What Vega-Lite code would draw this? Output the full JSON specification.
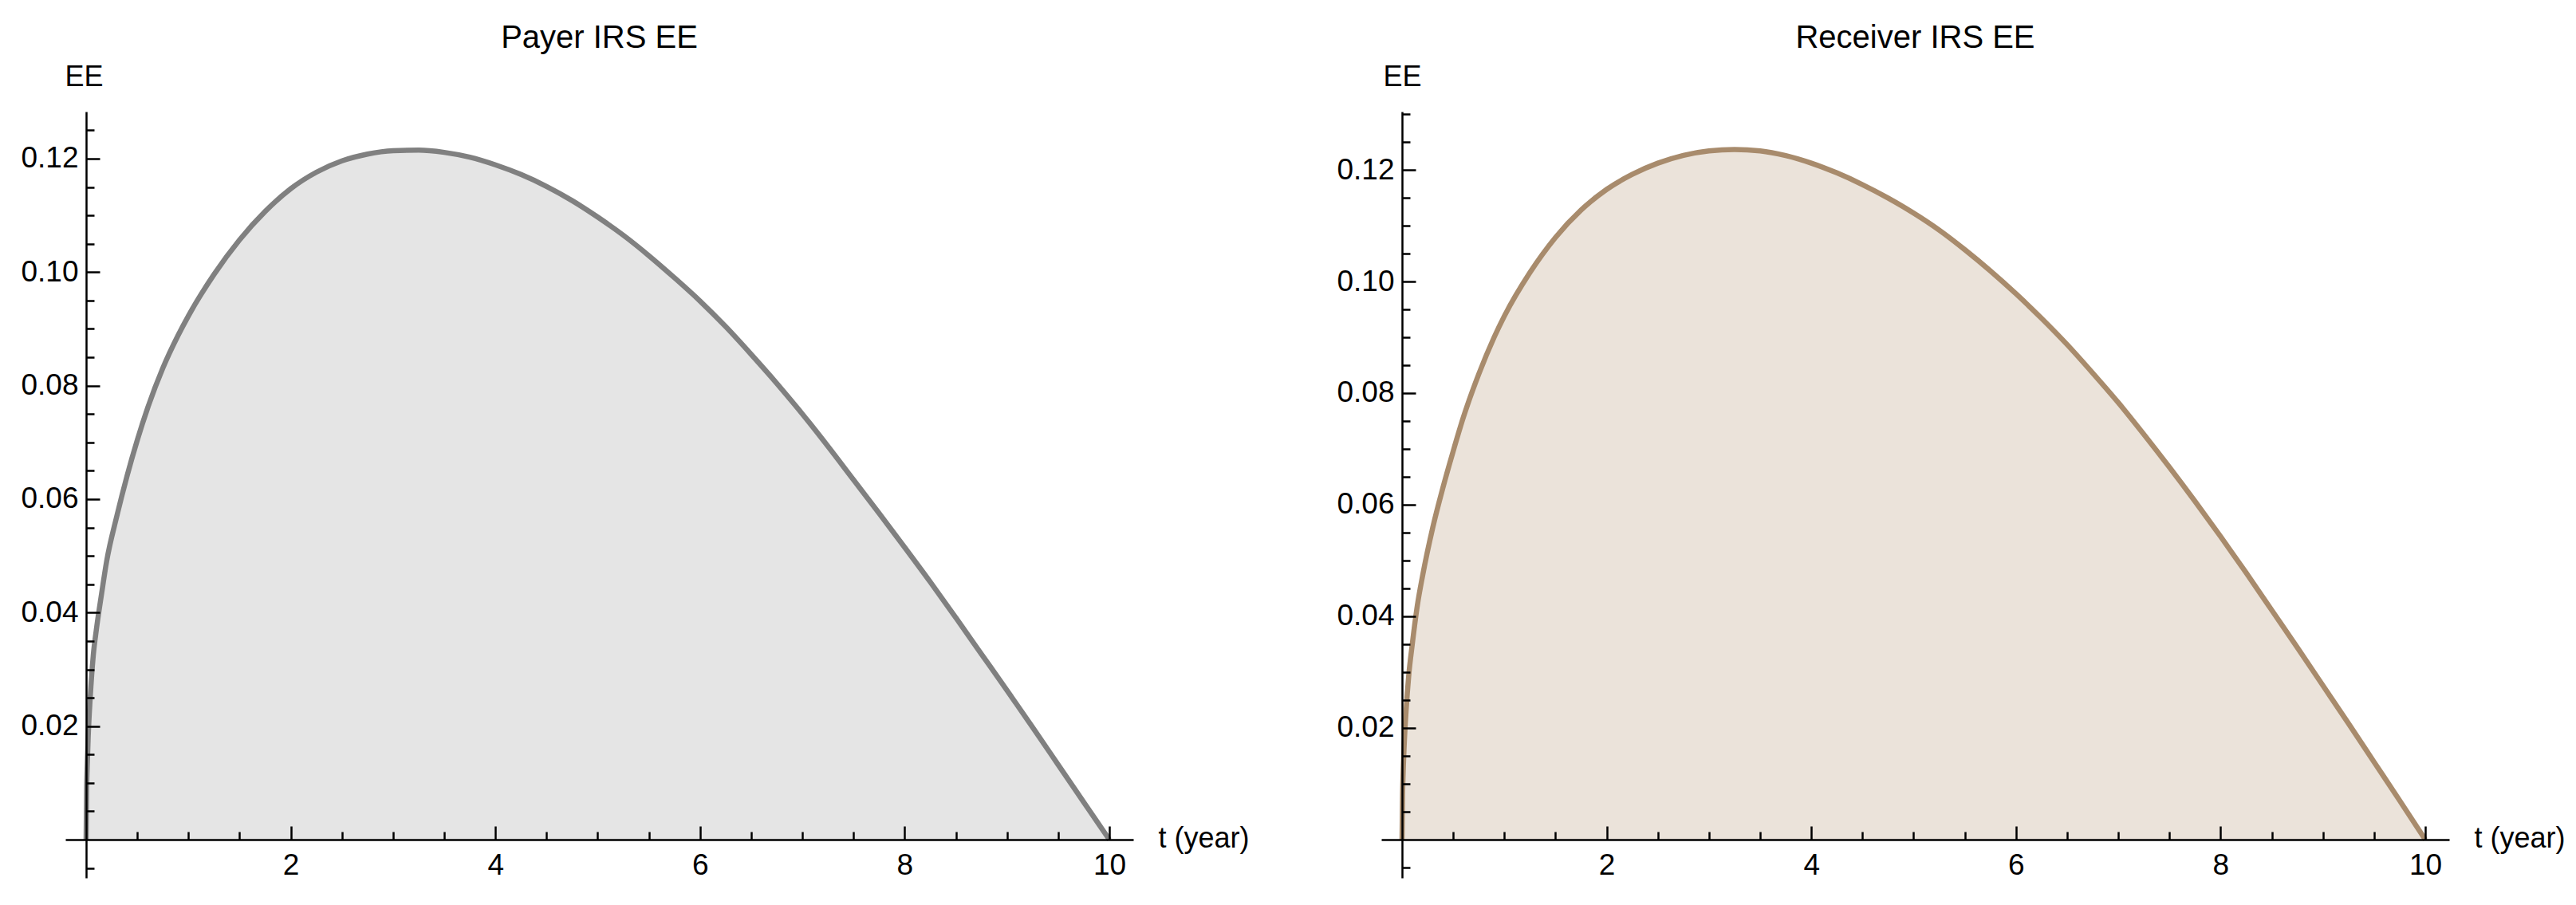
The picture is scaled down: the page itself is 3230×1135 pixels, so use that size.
{
  "$schema": "https://vega.github.io/schema/vega-lite/v6.json",
  "padding": {"left": 25, "top": 28, "right": 5, "bottom": 5},
  "background": "white",
  "config": {"view": {"stroke": null}, "font": "Liberation Sans"},
  "bounds": "flush",
  "spacing": 311,
  "datasets": {
    "payer": [
      {"t": 0, "ee": 0}, {"t": 0.005, "ee": 0.009}, {"t": 0.01, "ee": 0.0125}, {"t": 0.02, "ee": 0.018}, {"t": 0.04, "ee": 0.025},
      {"t": 0.07, "ee": 0.0325}, {"t": 0.1, "ee": 0.037}, {"t": 0.15, "ee": 0.0432}, {"t": 0.2, "ee": 0.049}, {"t": 0.3, "ee": 0.057},
      {"t": 0.4, "ee": 0.0641}, {"t": 0.5, "ee": 0.0704}, {"t": 0.6, "ee": 0.076}, {"t": 0.75, "ee": 0.0831}, {"t": 0.9, "ee": 0.0889},
      {"t": 1.0, "ee": 0.0923}, {"t": 1.25, "ee": 0.0996}, {"t": 1.5, "ee": 0.1057}, {"t": 1.75, "ee": 0.1107},
      {"t": 2.0, "ee": 0.1147}, {"t": 2.25, "ee": 0.1176}, {"t": 2.5, "ee": 0.1196}, {"t": 2.75, "ee": 0.1208}, {"t": 3.0, "ee": 0.1214},
      {"t": 3.25, "ee": 0.1215}, {"t": 3.5, "ee": 0.1211}, {"t": 3.75, "ee": 0.12025}, {"t": 4.0, "ee": 0.1189}, {"t": 4.25, "ee": 0.1172},
      {"t": 4.5, "ee": 0.1151}, {"t": 4.75, "ee": 0.1126}, {"t": 5.0, "ee": 0.1097}, {"t": 5.25, "ee": 0.1065}, {"t": 5.5, "ee": 0.1029},
      {"t": 5.75, "ee": 0.099}, {"t": 6.0, "ee": 0.0949}, {"t": 6.25, "ee": 0.0904}, {"t": 6.5, "ee": 0.0855}, {"t": 6.75, "ee": 0.0804},
      {"t": 7.0, "ee": 0.075}, {"t": 7.25, "ee": 0.0693}, {"t": 7.5, "ee": 0.0634}, {"t": 7.75, "ee": 0.0575}, {"t": 8.0, "ee": 0.0515},
      {"t": 8.25, "ee": 0.0454}, {"t": 8.5, "ee": 0.0391}, {"t": 8.75, "ee": 0.0327}, {"t": 9.0, "ee": 0.0263}, {"t": 9.25, "ee": 0.0198},
      {"t": 9.5, "ee": 0.0132}, {"t": 9.75, "ee": 0.0066}, {"t": 10.0, "ee": 0}
    ],
    "receiver": [
      {"t": 0, "ee": 0}, {"t": 0.005, "ee": 0.008}, {"t": 0.01, "ee": 0.0115}, {"t": 0.02, "ee": 0.0165}, {"t": 0.04, "ee": 0.0232},
      {"t": 0.065, "ee": 0.0293}, {"t": 0.1, "ee": 0.035}, {"t": 0.15, "ee": 0.042}, {"t": 0.2, "ee": 0.0472}, {"t": 0.3, "ee": 0.0559},
      {"t": 0.4, "ee": 0.0631}, {"t": 0.5, "ee": 0.0696}, {"t": 0.6, "ee": 0.0757}, {"t": 0.75, "ee": 0.0834}, {"t": 0.9, "ee": 0.09},
      {"t": 1.0, "ee": 0.0938}, {"t": 1.25, "ee": 0.1016}, {"t": 1.5, "ee": 0.1079}, {"t": 1.75, "ee": 0.1128}, {"t": 2.0, "ee": 0.1165},
      {"t": 2.25, "ee": 0.1192}, {"t": 2.5, "ee": 0.1212}, {"t": 2.75, "ee": 0.1226}, {"t": 3.0, "ee": 0.1234}, {"t": 3.25, "ee": 0.12365},
      {"t": 3.5, "ee": 0.1234}, {"t": 3.75, "ee": 0.12255}, {"t": 4.0, "ee": 0.1212}, {"t": 4.25, "ee": 0.11945}, {"t": 4.5, "ee": 0.11735},
      {"t": 4.75, "ee": 0.11495}, {"t": 5.0, "ee": 0.11225}, {"t": 5.25, "ee": 0.1092}, {"t": 5.5, "ee": 0.1057}, {"t": 5.75, "ee": 0.1019},
      {"t": 6.0, "ee": 0.0978}, {"t": 6.25, "ee": 0.0934}, {"t": 6.5, "ee": 0.0887}, {"t": 6.75, "ee": 0.0836}, {"t": 7.0, "ee": 0.0783},
      {"t": 7.25, "ee": 0.0726}, {"t": 7.5, "ee": 0.0667}, {"t": 7.75, "ee": 0.0606}, {"t": 8.0, "ee": 0.0543}, {"t": 8.25, "ee": 0.0478},
      {"t": 8.5, "ee": 0.0411}, {"t": 8.75, "ee": 0.0344}, {"t": 9.0, "ee": 0.0276}, {"t": 9.25, "ee": 0.0208}, {"t": 9.5, "ee": 0.0139},
      {"t": 9.75, "ee": 0.007}, {"t": 10.0, "ee": 0}
    ]
  },
  "hconcat": [
    {
      "width": 1339,
      "height": 961,
      "title": {"text": "Payer IRS EE", "fontSize": 40, "font": "Liberation Sans", "fontWeight": "normal", "color": "black", "anchor": "middle", "frame": "group", "baseline": "alphabetic", "offset": -22},
      "data": {"name": "payer"},
      "layer": [
        {
          "mark": {"type": "area", "color": "#e5e5e5", "interpolate": "monotone"},
          "encoding": {
            "x": {"field": "t", "type": "quantitative", "scale": {"domain": [-0.2026, 10.234], "nice": false, "zero": false},
              "axis": {"orient": "bottom", "offset": -48, "values": [2, 4, 6, 8, 10], "format": "d", "grid": false, "zindex": 1,
                "domainColor": "black", "domainWidth": 2.5, "tickColor": "black", "tickWidth": 2.5, "tickSize": -17,
                "labelFont": "Liberation Sans", "labelFontSize": 37, "labelColor": "black", "labelPadding": 31, "labelFlush": false, "labelOverlap": false,
                "title": "t (year)", "titleFont": "Liberation Sans", "titleFontSize": 36, "titleFontWeight": "normal", "titleColor": "black",
                "titleAngle": 0, "titleAlign": "left", "titleBaseline": "middle", "titleX": 1370, "titleY": -2}},
            "y": {"field": "ee", "type": "quantitative", "scale": {"domain": [-0.00674, 0.12828], "nice": false, "zero": false},
              "axis": {"orient": "left", "offset": -26, "values": [0.02, 0.04, 0.06, 0.08, 0.1, 0.12], "format": ".2f", "grid": false, "zindex": 1,
                "domainColor": "black", "domainWidth": 2.5, "tickColor": "black", "tickWidth": 2.5, "tickSize": -17,
                "labelFont": "Liberation Sans", "labelFontSize": 37, "labelColor": "black", "labelPadding": 27, "labelOverlap": false,
                "title": "EE", "titleFont": "Liberation Sans", "titleFontSize": 36, "titleFontWeight": "normal", "titleColor": "black",
                "titleAngle": 0, "titleAlign": "center", "titleBaseline": "alphabetic", "titleX": -3, "titleY": -33}},
            "y2": {"datum": 0}
          }
        },
        {
          "mark": {"type": "line", "color": "#808080", "strokeWidth": 6.5, "interpolate": "monotone"},
          "encoding": {
            "x": {"field": "t", "type": "quantitative", "scale": {"domain": [-0.2026, 10.234], "nice": false, "zero": false},
              "axis": {"orient": "bottom", "offset": -48, "values": [0.5, 1, 1.5, 2.5, 3, 3.5, 4.5, 5, 5.5, 6.5, 7, 7.5, 8.5, 9, 9.5], "grid": false, "zindex": 1,
                "domain": false, "labels": false, "tickColor": "black", "tickWidth": 2.5, "tickSize": -10, "title": null}},
            "y": {"field": "ee", "type": "quantitative", "scale": {"domain": [-0.00674, 0.12828], "nice": false, "zero": false},
              "axis": {"orient": "left", "offset": -26, "values": [-0.005, 0.005, 0.01, 0.015, 0.025, 0.03, 0.035, 0.045, 0.05, 0.055, 0.065, 0.07, 0.075, 0.085, 0.09, 0.095, 0.105, 0.11, 0.115, 0.125], "grid": false, "zindex": 1,
                "domain": false, "labels": false, "tickColor": "black", "tickWidth": 2.5, "tickSize": -10, "title": null}}
          }
        }
      ],
      "resolve": {"axis": {"x": "independent", "y": "independent"}}
    },
    {
      "width": 1339,
      "height": 961,
      "title": {"text": "Receiver IRS EE", "fontSize": 40, "font": "Liberation Sans", "fontWeight": "normal", "color": "black", "anchor": "middle", "frame": "group", "baseline": "alphabetic", "offset": -22},
      "data": {"name": "receiver"},
      "layer": [
        {
          "mark": {"type": "area", "color": "#ebe3da", "interpolate": "monotone"},
          "encoding": {
            "x": {"field": "t", "type": "quantitative", "scale": {"domain": [-0.2026, 10.234], "nice": false, "zero": false},
              "axis": {"orient": "bottom", "offset": -48, "values": [2, 4, 6, 8, 10], "format": "d", "grid": false, "zindex": 1,
                "domainColor": "black", "domainWidth": 2.5, "tickColor": "black", "tickWidth": 2.5, "tickSize": -17,
                "labelFont": "Liberation Sans", "labelFontSize": 37, "labelColor": "black", "labelPadding": 31, "labelFlush": false, "labelOverlap": false,
                "title": "t (year)", "titleFont": "Liberation Sans", "titleFontSize": 36, "titleFontWeight": "normal", "titleColor": "black",
                "titleAngle": 0, "titleAlign": "left", "titleBaseline": "middle", "titleX": 1370, "titleY": -2}},
            "y": {"field": "ee", "type": "quantitative", "scale": {"domain": [-0.00686, 0.13043], "nice": false, "zero": false},
              "axis": {"orient": "left", "offset": -26, "values": [0.02, 0.04, 0.06, 0.08, 0.1, 0.12], "format": ".2f", "grid": false, "zindex": 1,
                "domainColor": "black", "domainWidth": 2.5, "tickColor": "black", "tickWidth": 2.5, "tickSize": -17,
                "labelFont": "Liberation Sans", "labelFontSize": 37, "labelColor": "black", "labelPadding": 27, "labelOverlap": false,
                "title": "EE", "titleFont": "Liberation Sans", "titleFontSize": 36, "titleFontWeight": "normal", "titleColor": "black",
                "titleAngle": 0, "titleAlign": "center", "titleBaseline": "alphabetic", "titleX": 0, "titleY": -33}},
            "y2": {"datum": 0}
          }
        },
        {
          "mark": {"type": "line", "color": "#a88b6c", "strokeWidth": 6.5, "interpolate": "monotone"},
          "encoding": {
            "x": {"field": "t", "type": "quantitative", "scale": {"domain": [-0.2026, 10.234], "nice": false, "zero": false},
              "axis": {"orient": "bottom", "offset": -48, "values": [0.5, 1, 1.5, 2.5, 3, 3.5, 4.5, 5, 5.5, 6.5, 7, 7.5, 8.5, 9, 9.5], "grid": false, "zindex": 1,
                "domain": false, "labels": false, "tickColor": "black", "tickWidth": 2.5, "tickSize": -10, "title": null}},
            "y": {"field": "ee", "type": "quantitative", "scale": {"domain": [-0.00686, 0.13043], "nice": false, "zero": false},
              "axis": {"orient": "left", "offset": -26, "values": [-0.005, 0.005, 0.01, 0.015, 0.025, 0.03, 0.035, 0.045, 0.05, 0.055, 0.065, 0.07, 0.075, 0.085, 0.09, 0.095, 0.105, 0.11, 0.115, 0.125, 0.13], "grid": false, "zindex": 1,
                "domain": false, "labels": false, "tickColor": "black", "tickWidth": 2.5, "tickSize": -10, "title": null}}
          }
        }
      ],
      "resolve": {"axis": {"x": "independent", "y": "independent"}}
    }
  ]
}
